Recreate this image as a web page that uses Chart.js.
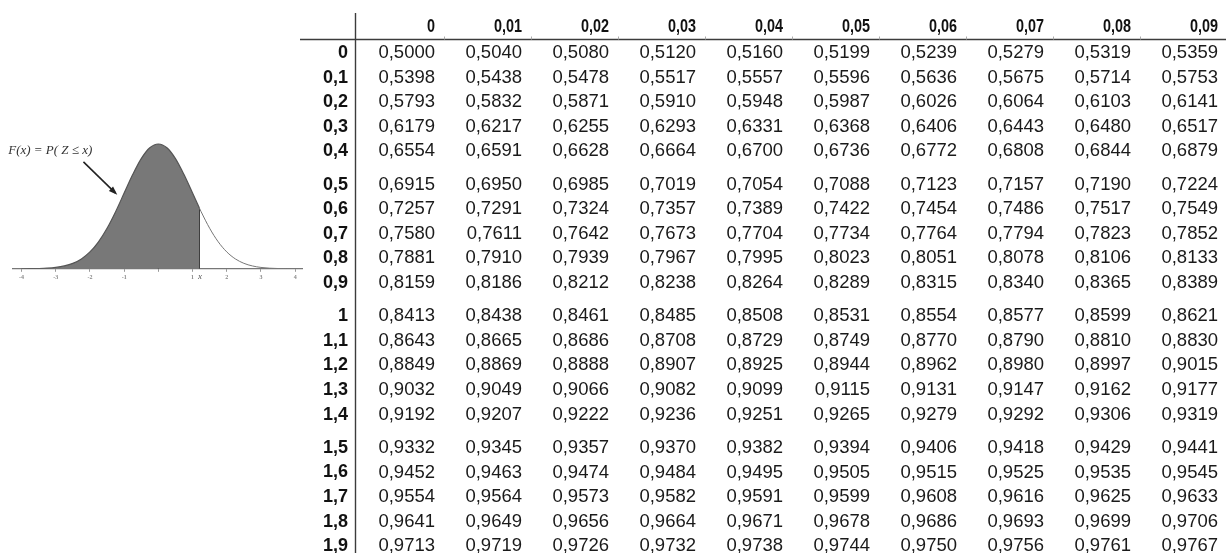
<!DOCTYPE html>
<html>
<head>
<meta charset="utf-8">
<script src="https://cdn.jsdelivr.net/npm/chart.js@4.4.0/dist/chart.umd.min.js"></script>
<style>
html, body { margin: 0; padding: 0; background: #fff; }
body { width: 1226px; height: 553px; position: relative; overflow: hidden; }
#bellBox { position: absolute; left: 0; top: 130px; width: 310px; height: 153px; }
#tableBox { position: absolute; left: 300px; top: 0; width: 926px; height: 553px; }
</style>
</head>
<body>
<div id="bellBox"><canvas id="bellChart"></canvas></div>
<div id="tableBox"><canvas id="tableChart"></canvas></div>
<script>
// column headers (second decimal) and row headers (first decimal)
var colLabels = ['0', '0,01', '0,02', '0,03', '0,04', '0,05', '0,06', '0,07', '0,08', '0,09'];
var rowLabels = ['0', '0,1', '0,2', '0,3', '0,4', '0,5', '0,6', '0,7', '0,8', '0,9',
                 '1', '1,1', '1,2', '1,3', '1,4', '1,5', '1,6', '1,7', '1,8', '1,9'];

// F(x) values, one array per row
var cdf = [
    [0.5000, 0.5040, 0.5080, 0.5120, 0.5160, 0.5199, 0.5239, 0.5279, 0.5319, 0.5359],
    [0.5398, 0.5438, 0.5478, 0.5517, 0.5557, 0.5596, 0.5636, 0.5675, 0.5714, 0.5753],
    [0.5793, 0.5832, 0.5871, 0.5910, 0.5948, 0.5987, 0.6026, 0.6064, 0.6103, 0.6141],
    [0.6179, 0.6217, 0.6255, 0.6293, 0.6331, 0.6368, 0.6406, 0.6443, 0.6480, 0.6517],
    [0.6554, 0.6591, 0.6628, 0.6664, 0.6700, 0.6736, 0.6772, 0.6808, 0.6844, 0.6879],
    [0.6915, 0.6950, 0.6985, 0.7019, 0.7054, 0.7088, 0.7123, 0.7157, 0.7190, 0.7224],
    [0.7257, 0.7291, 0.7324, 0.7357, 0.7389, 0.7422, 0.7454, 0.7486, 0.7517, 0.7549],
    [0.7580, 0.7611, 0.7642, 0.7673, 0.7704, 0.7734, 0.7764, 0.7794, 0.7823, 0.7852],
    [0.7881, 0.7910, 0.7939, 0.7967, 0.7995, 0.8023, 0.8051, 0.8078, 0.8106, 0.8133],
    [0.8159, 0.8186, 0.8212, 0.8238, 0.8264, 0.8289, 0.8315, 0.8340, 0.8365, 0.8389],
    [0.8413, 0.8438, 0.8461, 0.8485, 0.8508, 0.8531, 0.8554, 0.8577, 0.8599, 0.8621],
    [0.8643, 0.8665, 0.8686, 0.8708, 0.8729, 0.8749, 0.8770, 0.8790, 0.8810, 0.8830],
    [0.8849, 0.8869, 0.8888, 0.8907, 0.8925, 0.8944, 0.8962, 0.8980, 0.8997, 0.9015],
    [0.9032, 0.9049, 0.9066, 0.9082, 0.9099, 0.9115, 0.9131, 0.9147, 0.9162, 0.9177],
    [0.9192, 0.9207, 0.9222, 0.9236, 0.9251, 0.9265, 0.9279, 0.9292, 0.9306, 0.9319],
    [0.9332, 0.9345, 0.9357, 0.9370, 0.9382, 0.9394, 0.9406, 0.9418, 0.9429, 0.9441],
    [0.9452, 0.9463, 0.9474, 0.9484, 0.9495, 0.9505, 0.9515, 0.9525, 0.9535, 0.9545],
    [0.9554, 0.9564, 0.9573, 0.9582, 0.9591, 0.9599, 0.9608, 0.9616, 0.9625, 0.9633],
    [0.9641, 0.9649, 0.9656, 0.9664, 0.9671, 0.9678, 0.9686, 0.9693, 0.9699, 0.9706],
    [0.9713, 0.9719, 0.9726, 0.9732, 0.9738, 0.9744, 0.9750, 0.9756, 0.9761, 0.9767]
];

// bell curve
var curveX = [-4, -3.75, -3.5, -3.25, -3, -2.75, -2.5, -2.25, -2, -1.75, -1.5, -1.25, -1, -0.75, -0.5, -0.25,
              0, 0.25, 0.5, 0.75, 1, 1.2, 1.25, 1.5, 1.75, 2, 2.25, 2.5, 2.75, 3, 3.25, 3.5, 3.75, 4];
var curveY = [0.0001, 0.0004, 0.0009, 0.0020, 0.0044, 0.0091, 0.0175, 0.0317, 0.0540, 0.0863, 0.1295, 0.1826, 0.2420, 0.3011, 0.3521, 0.3867,
              0.3989, 0.3867, 0.3521, 0.3011, 0.2420, 0.1942, 0.1826, 0.1295, 0.0863, 0.0540, 0.0317, 0.0175, 0.0091, 0.0044, 0.0020, 0.0009, 0.0004, 0.0001];
var shadeTo = 1.2;
var curveTicks = [-4, -3, -2, -1, 0, 1, 2, 3, 4];

function fmt(v) { return v.toFixed(4).replace('.', ','); }
// rows come in blocks of five with a little extra space between blocks
function rowPos(i) { return i + Math.floor(i / 5) * 0.35; }

// ---------- bell curve ----------
var shaded = [], tail = [];
curveX.forEach(function (x, k) {
    if (x <= shadeTo) shaded.push({x: x, y: curveY[k]});
    if (x >= shadeTo) tail.push({x: x, y: curveY[k]});
});
var peak = curveY[curveX.indexOf(0)];
var cut = curveY[curveX.indexOf(shadeTo)];

var bellNotes = {
    id: 'bellNotes',
    afterDraw: function (chart) {
        var ctx = chart.ctx, xs = chart.scales.x, ys = chart.scales.y;
        ctx.save();
        // arrow
        var x1 = xs.getPixelForValue(-2.19), y1 = ys.getPixelForValue(0.3415);
        var x2 = xs.getPixelForValue(-1.26), y2 = ys.getPixelForValue(0.2425);
        ctx.strokeStyle = '#222';
        ctx.fillStyle = '#222';
        ctx.lineWidth = 1.6;
        ctx.beginPath(); ctx.moveTo(x1, y1); ctx.lineTo(x2, y2); ctx.stroke();
        var a = Math.atan2(y2 - y1, x2 - x1);
        ctx.beginPath();
        ctx.moveTo(x2 + 2, y2 + 2 * Math.tan(a));
        ctx.lineTo(x2 - 6 * Math.cos(a) + 3 * Math.sin(a), y2 - 6 * Math.sin(a) - 3 * Math.cos(a));
        ctx.lineTo(x2 - 6 * Math.cos(a) - 3 * Math.sin(a), y2 - 6 * Math.sin(a) + 3 * Math.cos(a));
        ctx.closePath(); ctx.fill();
        // label
        ctx.font = 'italic 13px "Liberation Serif", serif';
        ctx.fillStyle = '#333';
        ctx.textBaseline = 'middle';
        ctx.textAlign = 'left';
        ctx.fillText('F(x) = P( Z \u2264 x)', xs.getPixelForValue(-4.39), ys.getPixelForValue(0.3766));
        // x mark under the cut
        ctx.font = 'italic 9px "Liberation Serif", serif';
        ctx.fillStyle = '#555';
        ctx.fillText('x', xs.getPixelForValue(1.16), chart.chartArea.bottom + 8);
        ctx.restore();
    }
};

new Chart(document.getElementById('bellChart'), {
    type: 'scatter',
    data: {
        datasets: [
            {data: shaded, showLine: true, fill: 'origin', backgroundColor: '#787878', borderColor: '#555',
             borderWidth: 1.2, pointRadius: 0, cubicInterpolationMode: 'monotone'},
            {data: tail, showLine: true, fill: false, borderColor: '#777', borderWidth: 1,
             pointRadius: 0, cubicInterpolationMode: 'monotone'},
            {data: [{x: 0, y: 0}, {x: 0, y: peak}], showLine: true, borderColor: '#333', borderWidth: 1.2, pointRadius: 0},
            {data: [{x: shadeTo, y: 0}, {x: shadeTo, y: cut}], showLine: true, borderColor: '#333', borderWidth: 1.2, pointRadius: 0}
        ]
    },
    options: {
        responsive: true,
        maintainAspectRatio: false,
        animation: false,
        events: [],
        layout: {padding: {left: 13, right: 8, top: 0, bottom: 0}},
        plugins: {legend: {display: false}, tooltip: {enabled: false}},
        scales: {
            x: {
                type: 'linear', min: -4.25, max: 4.2,
                afterBuildTicks: function (scale) { scale.ticks = curveTicks.map(function (v) { return {value: v}; }); },
                ticks: {
                    autoSkip: false, maxRotation: 0, padding: 2,
                    font: {size: 6, family: '"Liberation Serif", serif', weight: 'bold'}, color: '#888',
                    callback: function (v) { return v === 0 ? '' : String(v); }
                },
                grid: {display: true, drawOnChartArea: false, drawTicks: true, tickLength: 3, color: '#999'},
                border: {display: true, color: '#777', width: 1.2}
            },
            y: {type: 'linear', min: 0, max: 0.4436, display: false}
        }
    },
    plugins: [bellNotes]
});

// ---------- table ----------
var cellSets = cdf.map(function (row, i) {
    return {
        data: row.map(function (v, j) { return {x: j, y: rowPos(i), v: v}; }),
        pointRadius: 0, showLine: false
    };
});

var tableText = {
    id: 'tableText',
    afterDatasetsDraw: function (chart) {
        var ctx = chart.ctx, xs = chart.scales.x, ys = chart.scales.y, area = chart.chartArea;
        ctx.save();
        // rules
        ctx.strokeStyle = '#3c3c3c';
        ctx.lineWidth = 1.4;
        var vx = Math.round(xs.getPixelForValue(-0.92)) + 0.5;
        ctx.beginPath();
        ctx.moveTo(vx, ys.getPixelForValue(-1.63));
        ctx.lineTo(vx, area.bottom);
        ctx.stroke();
        var hy = Math.round(ys.getPixelForValue(-0.57)) + 0.5;
        ctx.beginPath();
        ctx.moveTo(area.left, hy);
        ctx.lineTo(area.right, hy);
        ctx.stroke();
        // small marks on the header rule
        ctx.strokeStyle = '#aaa';
        ctx.lineWidth = 1;
        colLabels.forEach(function (c, j) {
            var mx = Math.round(xs.getPixelForValue(j + 0.1)) + 0.5;
            ctx.beginPath(); ctx.moveTo(mx, hy - 3); ctx.lineTo(mx, hy); ctx.stroke();
        });
        ctx.textBaseline = 'middle';
        ctx.textAlign = 'right';
        ctx.fillStyle = '#111';
        // column headers, narrow bold
        ctx.font = 'bold 18px "Liberation Sans", Arial, sans-serif';
        colLabels.forEach(function (c, j) {
            ctx.save();
            ctx.translate(xs.getPixelForValue(j), ys.getPixelForValue(-1.05));
            ctx.scale(0.8, 1);
            ctx.fillText(c, 0, 0);
            ctx.restore();
        });
        // row headers
        rowLabels.forEach(function (r, i) {
            ctx.fillText(r, xs.getPixelForValue(-1), ys.getPixelForValue(rowPos(i)));
        });
        // cells
        ctx.font = '18.5px "Liberation Sans", Arial, sans-serif';
        ctx.fillStyle = '#1a1a1a';
        chart.data.datasets.forEach(function (ds, i) {
            chart.getDatasetMeta(i).data.forEach(function (pt, j) {
                ctx.fillText(fmt(ds.data[j].v), pt.x, pt.y);
            });
        });
        ctx.restore();
    }
};

new Chart(document.getElementById('tableChart'), {
    type: 'scatter',
    data: {datasets: cellSets},
    options: {
        responsive: true,
        maintainAspectRatio: false,
        animation: false,
        events: [],
        layout: {padding: 0},
        plugins: {legend: {display: false}, tooltip: {enabled: false}},
        scales: {
            x: {type: 'linear', min: -1.5517, max: 9.092, display: false},
            y: {type: 'linear', min: -2.154, max: 20.326, reverse: true, display: false}
        }
    },
    plugins: [tableText]
});
</script>
</body>
</html>
